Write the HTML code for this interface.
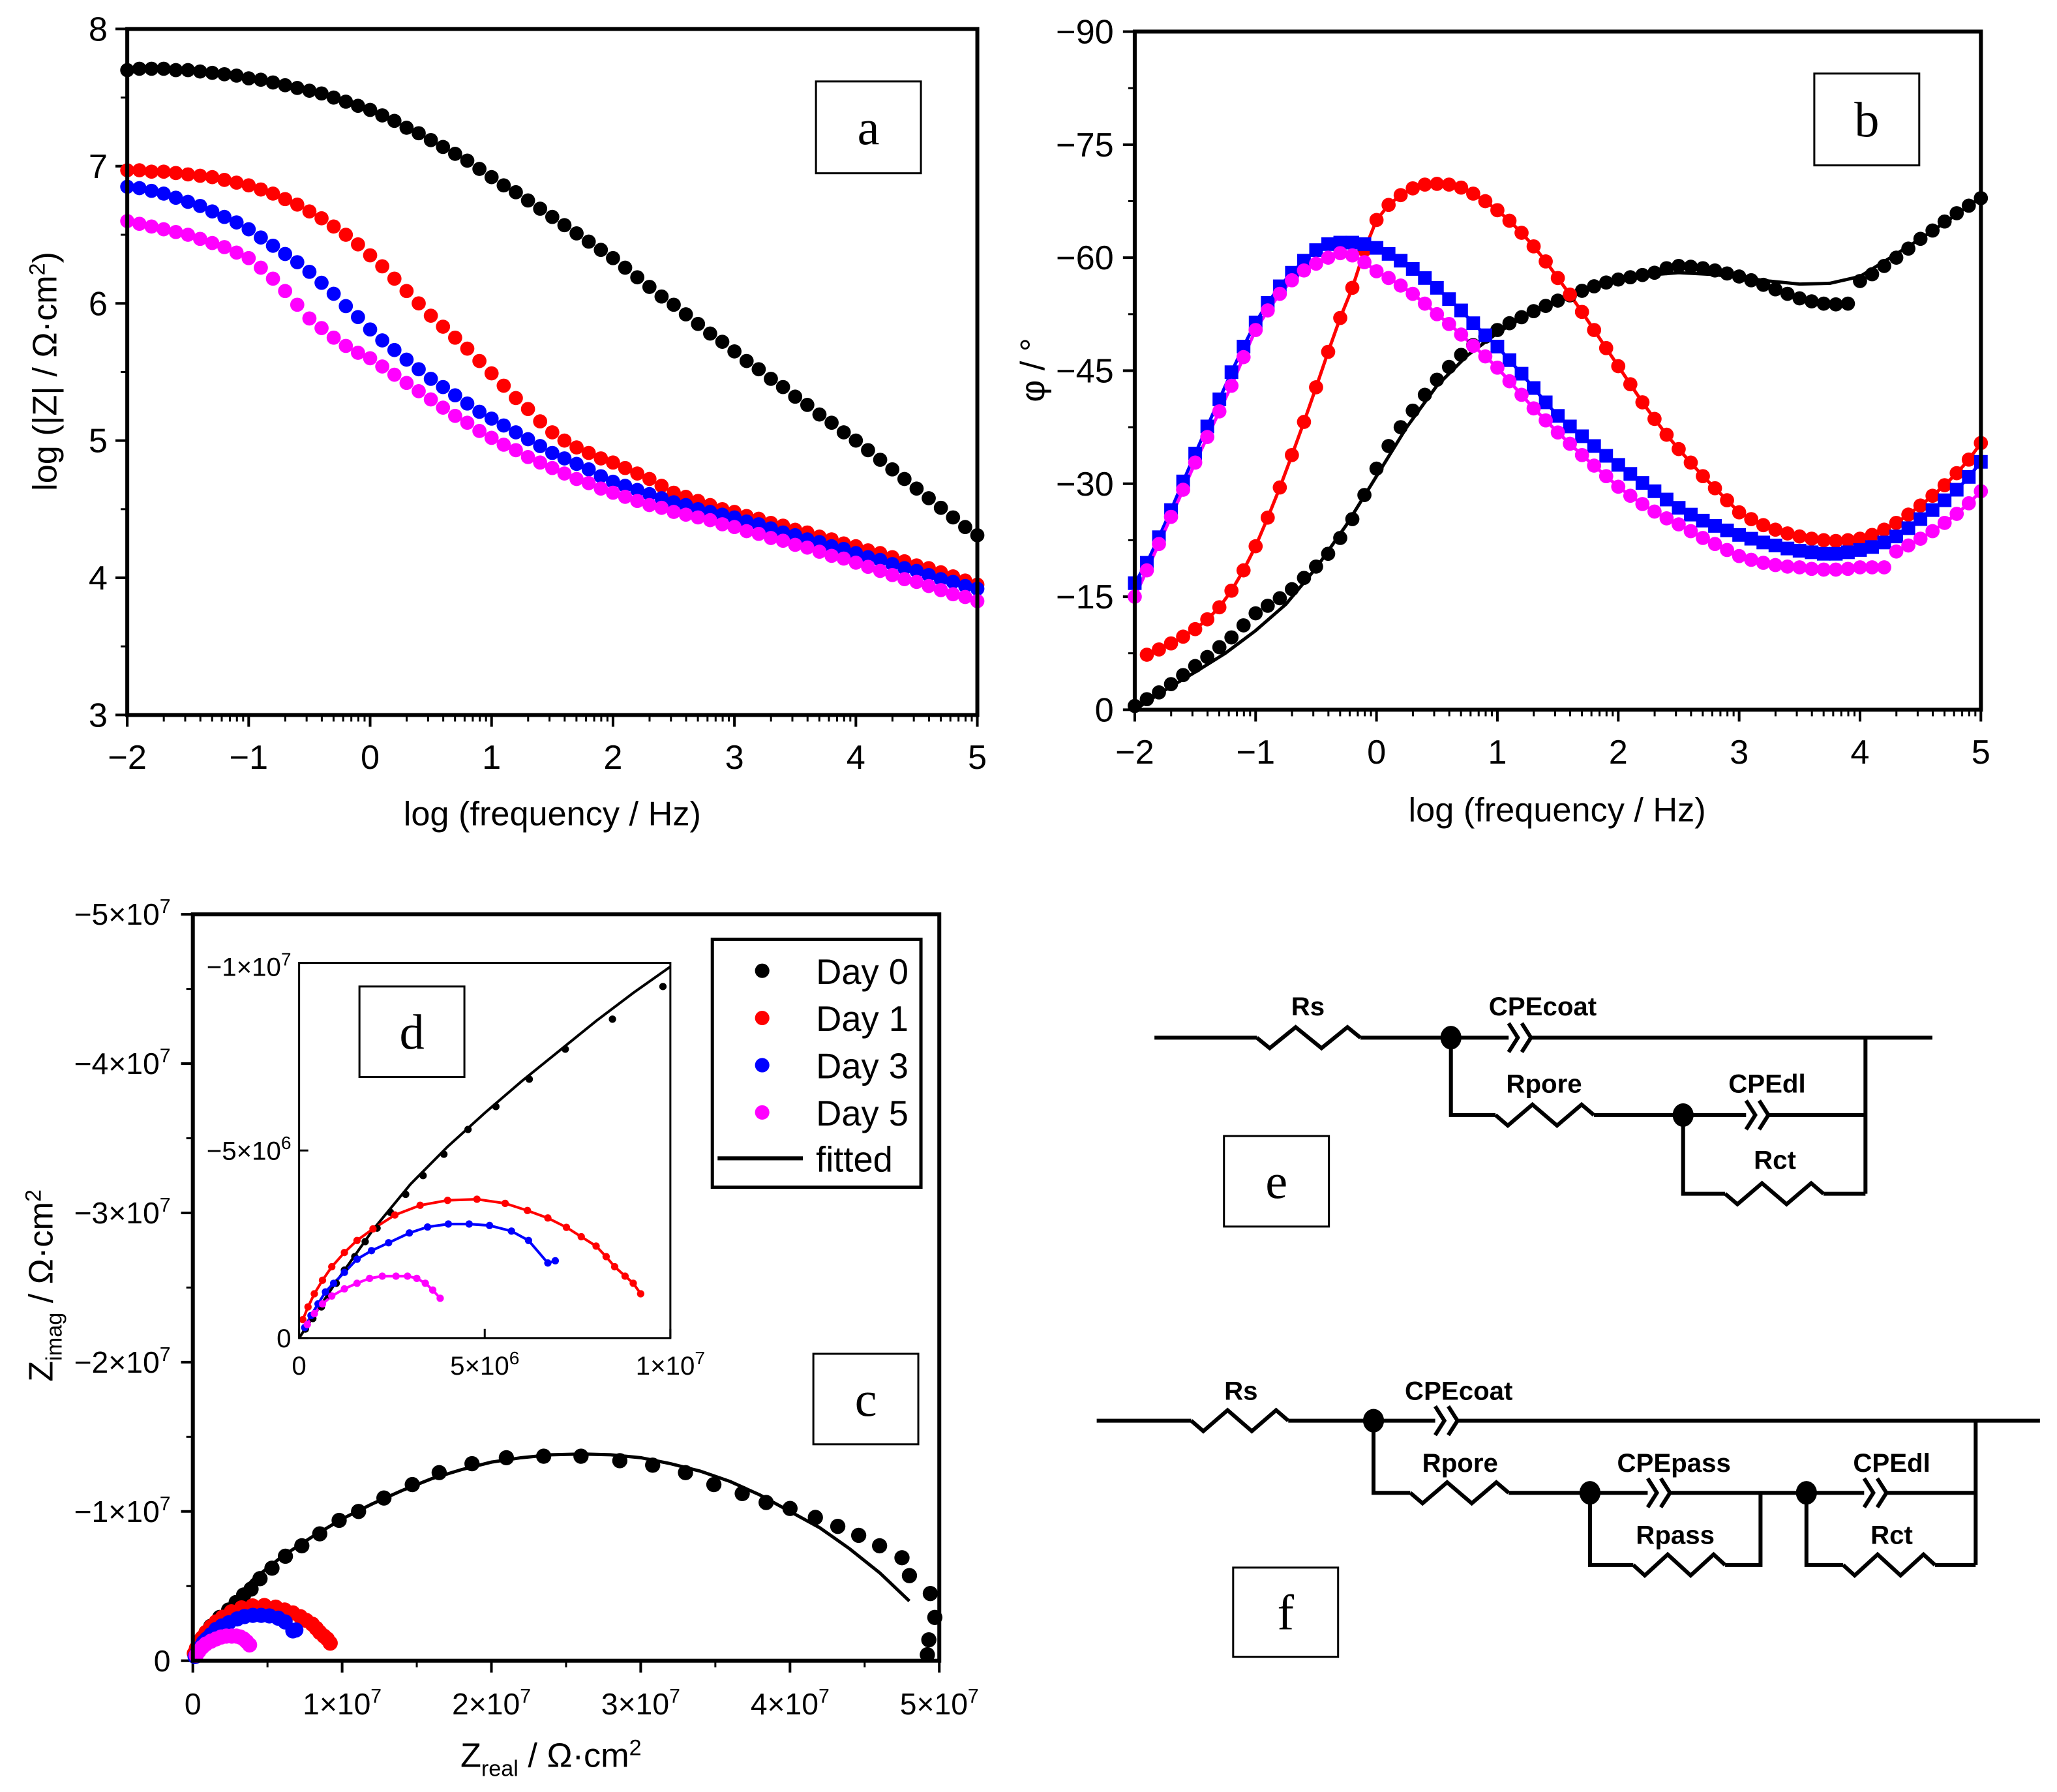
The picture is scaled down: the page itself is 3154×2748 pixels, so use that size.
<!DOCTYPE html>
<html><head><meta charset="utf-8"><style>
html,body{margin:0;padding:0;background:#fff;}
svg{display:block;}
text{font-family:"Liberation Sans",sans-serif;fill:#000;}
.serif{font-family:"Liberation Serif",serif;}
</style></head><body>
<svg id="root" xmlns="http://www.w3.org/2000/svg" width="3154" height="2748" viewBox="0 0 1568 1366">
<rect x="0" y="0" width="1568" height="1366" fill="#fff"/>
</svg>
<script>
// ---------- Panel a data: log|Z| vs log f (step 0.1 from -2 to 5) ----------
const aFreqStart = -2, aFreqStep = 0.1;
const aDay0 = [7.70,7.71,7.71,7.71,7.70,7.70,7.69,7.68,7.67,7.66,7.64, 7.63,7.61,7.59,7.57,7.55,7.53,7.50,7.47,7.44,7.41, 7.37,7.33,7.28,7.24,7.19,7.14,7.09,7.04,6.98,6.92, 6.86,6.81,6.75,6.69,6.63,6.57,6.51,6.45,6.39,6.33, 6.26,6.19,6.12,6.05,5.99,5.92,5.85,5.78,5.72,5.65, 5.58,5.52,5.45,5.39,5.32,5.26,5.19,5.13,5.06,5.00, 4.93,4.86,4.79,4.72,4.65,4.58,4.51,4.44,4.37,4.31];
const aDay1 = [6.97,6.97,6.96,6.96,6.95,6.94,6.93,6.92,6.90,6.88,6.86, 6.83,6.80,6.76,6.72,6.67,6.62,6.56,6.50,6.43,6.35, 6.27,6.18,6.09,6.00,5.91,5.83,5.75,5.67,5.58,5.49, 5.40,5.31,5.23,5.14,5.06,5.00,4.95,4.91,4.87,4.84, 4.80,4.76,4.72,4.67,4.62,4.59,4.56,4.53,4.50,4.48, 4.45,4.43,4.40,4.38,4.35,4.33,4.30,4.28,4.25,4.23, 4.20,4.18,4.15,4.12,4.09,4.07,4.04,4.01,3.98,3.95];
const aDay3 = [6.85,6.84,6.82,6.80,6.77,6.74,6.71,6.67,6.63,6.59,6.54, 6.48,6.42,6.36,6.30,6.23,6.15,6.07,5.98,5.90,5.81, 5.73,5.66,5.59,5.52,5.45,5.39,5.33,5.27,5.21,5.16, 5.11,5.06,5.01,4.96,4.91,4.87,4.83,4.79,4.74,4.70, 4.67,4.64,4.61,4.58,4.55,4.53,4.50,4.48,4.46,4.44, 4.41,4.39,4.36,4.33,4.31,4.28,4.26,4.23,4.21,4.18, 4.15,4.13,4.10,4.07,4.05,4.02,3.99,3.97,3.94,3.92];
const aDay5 = [6.60,6.58,6.56,6.54,6.52,6.50,6.47,6.44,6.41,6.37,6.33, 6.26,6.18,6.09,5.99,5.89,5.82,5.75,5.69,5.64,5.60, 5.54,5.48,5.42,5.36,5.30,5.24,5.18,5.13,5.07,5.02, 4.97,4.93,4.88,4.84,4.80,4.76,4.72,4.69,4.65,4.62, 4.59,4.56,4.53,4.51,4.48,4.46,4.44,4.42,4.39,4.37, 4.34,4.32,4.29,4.27,4.24,4.22,4.19,4.16,4.14,4.11, 4.08,4.05,4.02,3.99,3.97,3.94,3.91,3.88,3.86,3.83];
const aXTicks = [-2,-1,0,1,2,3,4,5];
const aYTicks = [3,4,5,6,7,8];

// ---------- Panel b data: -phi (deg) vs log f ----------
const bDay0Start = -2;
const bDay0 = [0.5,1.4,2.3,3.4,4.6,5.8,7.0,8.3,9.6,11.2,12.8, 13.8,14.8,16.0,17.5,19.0,20.7,22.8,25.3,28.5,32.0, 35.0,37.5,39.7,41.8,43.8,45.5,47.1,48.4,49.5,50.4, 51.3,52.1,52.9,53.6,54.3,55.0,55.6,56.2,56.7,57.1, 57.4,57.7,58.0,58.6,58.9,58.8,58.6,58.3,57.9,57.5, 57.0,56.4,55.8,55.2,54.6,54.2,53.9,53.8,53.9, 56.9,57.8,58.9,60.0,61.2,62.5,63.6,64.8,65.9,66.9,67.9];
const bDay0FitFreq = [-2,-1.75,-1.5,-1.25,-1,-0.75,-0.5,-0.25,0,0.25,0.5,0.75,1,1.25,1.5,1.75,2,2.25,2.5,2.75,3,3.25,3.5,3.75,4,4.25,4.5,4.75,5];
const bDay0Fit = [0,2.6,5.0,7.5,10.5,14.0,18.8,24.5,31,37.5,43,47,50,52.5,54.4,55.9,57,57.7,58,57.8,57.4,56.9,56.5,56.6,57.5,60.0,62.5,65.2,68];
const bDay1Start = -1.9;
const bDay1 = [7.3,8.0,8.8,9.7,10.7,12.0,13.6,15.8,18.5,21.7, 25.5,29.5,33.8,38.2,42.8,47.5,52.0,56.0,61.0,65.0, 67.0,68.3,69.2,69.7,69.8,69.7,69.3,68.5,67.5,66.3, 64.9,63.3,61.5,59.5,57.3,55.1,52.8,50.4,48.0,45.6, 43.2,40.8,38.6,36.5,34.6,32.8,31.0,29.4,27.8,26.2, 25.3,24.5,23.9,23.4,23.0,22.7,22.5,22.4,22.5,22.7, 23.2,23.9,24.8,25.9,27.1,28.4,29.8,31.4,33.2,35.4];
const bDay3Start = -2;
const bDay3 = [16.8,19.5,22.9,26.5,30.3,34.0,37.6,41.2,44.8,48.2,51.4, 54.0,56.2,58.0,59.6,61.0,61.8,62.0,62.0,61.8,61.3, 60.5,59.6,58.5,57.3,56.0,54.5,53.0,51.3,49.7,48.2, 46.4,44.6,42.7,40.8,39.0,37.6,36.3,35.0,33.7,32.5, 31.3,30.1,29.0,27.9,26.8,25.9,25.1,24.4,23.8,23.2, 22.7,22.2,21.8,21.4,21.1,20.9,20.7,20.7,20.9,21.2, 21.6,22.2,23.0,24.1,25.3,26.5,27.8,29.2,30.9,32.9];
const bDay5Start = -2;
const bDay5 = [15.0,18.5,22.0,25.6,29.2,32.8,36.2,39.6,43.0,46.8,50.4, 53.0,55.2,57.0,58.3,59.2,60.0,60.6,60.3,59.4,58.2, 57.3,56.3,55.2,53.9,52.5,51.2,49.8,48.3,46.9,45.4, 43.6,41.8,40.0,38.4,36.8,35.3,33.8,32.4,31.0,29.6, 28.4,27.3,26.3,25.4,24.6,23.7,22.8,22.0,21.2,20.4, 19.9,19.5,19.2,19.0,18.9,18.7,18.6,18.6,18.7,18.9, 18.9,18.9, 21.0,21.8,22.7,23.7,24.8,26.0,27.4,29.0];
const bDay5BreakIndex = 63;
const bXTicks = [-2,-1,0,1,2,3,4,5];
const bYTicks = [0,15,30,45,60,75,90];
const bYTickLabels = ["0","\u221215","\u221230","\u221245","\u221260","\u221275","\u221290"];

// ---------- Panel c / d data: Nyquist (units of 1e6 ohm cm2, -Zimag positive) ----------
const cDay0Re = [0.6,1.2,1.8,2.4,2.9,3.4,3.9,4.5,5.3,6.2,7.3,8.5,9.8,11.1,12.8,14.7,16.5,18.7,21.0,23.5,26.0,28.6,30.8,33.0,34.9,36.8,38.4,40.0,41.7,43.2,44.6,46.0,47.5,48.0,49.4,49.7,49.3,49.2];
const cDay0Im = [1.5,2.3,2.9,3.4,3.9,4.4,4.8,5.5,6.2,7.0,7.7,8.5,9.4,10.0,10.9,11.8,12.6,13.2,13.6,13.7,13.7,13.4,13.1,12.6,11.8,11.2,10.6,10.2,9.6,9.0,8.4,7.7,6.9,5.7,4.5,2.9,1.4,0.4];
const cDay0FitRe = [0,2,4,6,8,10,12,14,16,18,20,22,24,26,28,30,32,34,36,38,40,42,44,46,48];
const cDay0FitIm = [0,3.2,5.4,7.0,8.3,9.5,10.5,11.4,12.2,12.8,13.3,13.6,13.8,13.85,13.8,13.6,13.2,12.7,12.0,11.1,10.0,8.9,7.5,5.9,4.0];
const dDay0Re = [0.17,0.37,0.6,0.8,1.0,1.22,1.5,1.78,2.1,2.46,2.87,3.34,3.9,4.55,5.3,6.2,7.17,8.44,9.8];
const dDay0Im = [0.24,0.52,0.83,1.15,1.46,1.81,2.17,2.57,2.93,3.35,3.83,4.33,4.9,5.56,6.17,6.9,7.7,8.5,9.37];
const dDay0FitRe = [0,1,2,3,4,5,6,7,8,9,10];
const dDay0FitIm = [0,1.5,2.9,4.1,5.1,6.0,6.85,7.65,8.45,9.2,9.9];
const dDay1Re = [0.10,0.24,0.41,0.63,0.88,1.22,1.56,1.99,2.58,3.26,4.0,4.79,5.55,6.15,6.7,7.2,7.6,8.0,8.27,8.5,8.78,9.0,9.2];
const dDay1Im = [0.49,0.83,1.18,1.54,1.9,2.28,2.6,2.91,3.28,3.54,3.67,3.7,3.59,3.4,3.2,2.95,2.7,2.45,2.17,1.9,1.65,1.46,1.18];
const dDay3Re = [0.15,0.32,0.51,0.71,0.93,1.22,1.56,1.95,2.41,2.97,3.46,4.02,4.58,5.13,5.72,6.18,6.7,6.9];
const dDay3Im = [0.28,0.6,0.91,1.23,1.46,1.75,2.1,2.33,2.54,2.8,2.96,3.04,3.04,3.0,2.85,2.6,2.0,2.06];
const dDay5Re = [0.22,0.41,0.63,0.88,1.22,1.56,1.9,2.24,2.61,2.92,3.17,3.4,3.6,3.8];
const dDay5Im = [0.36,0.65,0.91,1.12,1.31,1.46,1.59,1.65,1.65,1.65,1.59,1.46,1.28,1.06];
const cTicks = [0,10,20,30,40,50];
const cTickMant = ["0","1","2","3","4","5"];
const dXTicks = [0,5,10];
const dXTickLabels = [["0",""],["5\u00d710","6"],["1\u00d710","7"]];
const dYTicks = [0,5,10];
const dYTickLabels = [["0",""],["\u22125\u00d710","6"],["\u22121\u00d710","7"]];
const legendLabels = ["Day 0","Day 1","Day 3","Day 5"];

// ---------- helpers ----------
const NS = "http://www.w3.org/2000/svg";
const root = document.getElementById("root");
function mk(tag, attrs, parent){
  const e = document.createElementNS(NS, tag);
  for (const k in attrs) e.setAttribute(k, attrs[k]);
  (parent || root).appendChild(e);
  return e;
}
const COL = {d0:"#000000", d1:"#ff0000", d3:"#0000ff", d5:"#ff00ff"};
const DOT = 5.4;

// ===== Panel a =====
const xa = f => 97 + (f + 2) * 92.57;
const ya = v => 545 - (v - 3) * 104.6;
const gA = mk("g", {});


function drawAxesLog(g, xf, x0, x1, yTop, yBot, xTicks){
  xTicks.forEach((t, i) => {
    const x = xf(t);
    const tk = mk("line", {x1:x, y1:yBot, x2:x, y2:yBot + 9, stroke:"#000", "stroke-width":2}, g);
    
    
    if (i < xTicks.length - 1) {
      for (let m = 2; m <= 9; m++) {
        const xm = xf(t + Math.log10(m));
        const mt = mk("line", {x1:xm, y1:yBot, x2:xm, y2:yBot + 5, stroke:"#000", "stroke-width":1.5}, g);
        
        
      }
    }
  });
}
drawAxesLog(gA, xa, 97, 745, 22, 545, aXTicks);
aXTicks.forEach(t => {
  const tx = mk("text", {x:xa(t), y:586, "font-size":26, "text-anchor":"middle"}, gA);
  tx.textContent = t < 0 ? "\u2212" + Math.abs(t) : String(t);
  
  
});
aYTicks.forEach((t, i) => {
  const y = ya(t);
  const tk = mk("line", {x1:88, y1:y, x2:97, y2:y, stroke:"#000", "stroke-width":2}, gA);
  
  
  if (i < aYTicks.length - 1) {
    const ym = ya(t + 0.5);
    const mt = mk("line", {x1:92, y1:ym, x2:97, y2:ym, stroke:"#000", "stroke-width":1.5}, gA);
    
    
  }
  const tx = mk("text", {x:82, y:y + 9, "font-size":26, "text-anchor":"end"}, gA);
  tx.textContent = String(t);
  
  
});
const aXT = mk("text", {x:421, y:629, "font-size":26, "text-anchor":"middle"}, gA);
aXT.textContent = "log (frequency / Hz)";


const aYT = mk("text", {x:0, y:0, "font-size":26, "text-anchor":"middle", transform:"translate(43,283) rotate(-90)"}, gA);
aYT.innerHTML = 'log (|Z| / \u03a9\u00b7cm<tspan dy="-9" font-size="17">2</tspan><tspan dy="9">)</tspan>';


[["day0",aDay0,COL.d0],["day1",aDay1,COL.d1],["day3",aDay3,COL.d3],["day5",aDay5,COL.d5]].forEach(([nm, arr, c]) => {
  const g = mk("g", {fill:c}, gA);
  
  
  arr.forEach((v, i) => {
    const p = mk("circle", {cx:xa(aFreqStart + i * aFreqStep), cy:ya(v), r:DOT}, g);
    
    
  });
});
const aFrame = mk("rect", {x:97, y:22, width:648, height:523, fill:"none", stroke:"#000", "stroke-width":3}, gA);


function labelBox(g, x, y, w, h, letter, name){
  const r = mk("rect", {x:x, y:y, width:w, height:h, fill:"#fff", stroke:"#000", "stroke-width":1.5}, g);
  
  
  const t = mk("text", {x:x + w/2, y:y + h/2 + 13, "font-size":38, "text-anchor":"middle", class:"serif"}, g);
  t.textContent = letter;
  
  
}
labelBox(gA, 622, 62, 80, 70, "a", "panel-label-a");

// ===== Panel b =====
const xb = f => 865 + (f + 2) * 92.14;
const yb = p => 541 - p * 5.744;
const gB = mk("g", {});


drawAxesLog(gB, xb, 865, 1510, 24, 541, bXTicks);
bXTicks.forEach(t => {
  const tx = mk("text", {x:xb(t), y:582, "font-size":26, "text-anchor":"middle"}, gB);
  tx.textContent = t < 0 ? "\u2212" + Math.abs(t) : String(t);
  
  
});
bYTicks.forEach((t, i) => {
  const y = yb(t);
  const tk = mk("line", {x1:856, y1:y, x2:865, y2:y, stroke:"#000", "stroke-width":2}, gB);
  
  
  if (i < bYTicks.length - 1) {
    const ym = yb(t + 7.5);
    const mt = mk("line", {x1:860, y1:ym, x2:865, y2:ym, stroke:"#000", "stroke-width":1.5}, gB);
    
    
  }
  const tx = mk("text", {x:849, y:y + 9, "font-size":26, "text-anchor":"end"}, gB);
  tx.textContent = bYTickLabels[i];
  
  
});
const bXT = mk("text", {x:1187, y:626, "font-size":26, "text-anchor":"middle"}, gB);
bXT.textContent = "log (frequency / Hz)";


const bYT = mk("text", {x:0, y:0, "font-size":26, "text-anchor":"middle", transform:"translate(796,282) rotate(-90)"}, gB);
bYT.textContent = "\u03c6 / \u00b0";


function lineSeg(g, pts, c, w, name){
  const l = mk("polyline", {points:pts.map(p => p[0].toFixed(1) + "," + p[1].toFixed(1)).join(" "), fill:"none", stroke:c, "stroke-width":w}, g);
  
  
}
lineSeg(gB, bDay0FitFreq.map((f, i) => [xb(f), yb(bDay0Fit[i])]), COL.d0, 2.5, 'fit-line-day0');
lineSeg(gB, bDay1.map((v, i) => [xb(bDay1Start + i * 0.1), yb(v)]), COL.d1, 2.5, 'fit-line-day1');
lineSeg(gB, bDay3.map((v, i) => [xb(bDay3Start + i * 0.1), yb(v)]), COL.d3, 2.5, 'fit-line-day3');
lineSeg(gB, bDay5.slice(0, bDay5BreakIndex).map((v, i) => [xb(bDay5Start + i * 0.1), yb(v)]), COL.d5, 2.5, 'fit-line-day5');
lineSeg(gB, bDay5.slice(bDay5BreakIndex).map((v, i) => [xb(bDay5Start + (i + bDay5BreakIndex) * 0.1), yb(v)]), COL.d5, 2.5, 'fit-line-day5-upper');
function dots(g, arr, start, c, name, square){
  const gg = mk("g", {fill:c}, g);
  
  
  arr.forEach((v, i) => {
    const cx = xb(start + i * 0.1), cy = yb(v);
    const p = square ? mk("rect", {x:cx - 5.2, y:cy - 5.2, width:10.4, height:10.4}, gg) : mk("circle", {cx:cx, cy:cy, r:DOT}, gg);
    
    
  });
}
dots(gB, bDay0, bDay0Start, COL.d0, 'series-day0', false);
dots(gB, bDay1, bDay1Start, COL.d1, 'series-day1', false);
dots(gB, bDay3, bDay3Start, COL.d3, 'series-day3', true);
dots(gB, bDay5, bDay5Start, COL.d5, 'series-day5', false);
const bFrame = mk("rect", {x:865, y:24, width:645, height:517, fill:"none", stroke:"#000", "stroke-width":3}, gB);


labelBox(gB, 1383, 56, 80, 70, "b", "panel-label-b");

// ===== Panel c =====
const xc = v => 147 + v * 11.38;
const yc = v => 1266 - v * 11.38;
const gC = mk("g", {});


cTicks.forEach((t, i) => {
  const x = xc(t), y = yc(t);
  const tx1 = mk("line", {x1:x, y1:1266, x2:x, y2:1275, stroke:"#000", "stroke-width":2}, gC);
  
  
  const ty1 = mk("line", {x1:138, y1:y, x2:147, y2:y, stroke:"#000", "stroke-width":2}, gC);
  
  
  if (i < cTicks.length - 1) {
    const xm = xc(t + 5), ym = yc(t + 5);
    const m1 = mk("line", {x1:xm, y1:1266, x2:xm, y2:1271, stroke:"#000", "stroke-width":1.5}, gC);
    
    
    const m2 = mk("line", {x1:142, y1:ym, x2:147, y2:ym, stroke:"#000", "stroke-width":1.5}, gC);
    
    
  }
  const lx = mk("text", {x:x, y:1307, "font-size":23, "text-anchor":"middle"}, gC);
  lx.innerHTML = t === 0 ? "0" : cTickMant[i] + '\u00d710<tspan dy="-9" font-size="15">7</tspan>';
  
  
  const ly = mk("text", {x:130, y:y + 8, "font-size":23, "text-anchor":"end"}, gC);
  ly.innerHTML = t === 0 ? "0" : '\u2212' + cTickMant[i] + '\u00d710<tspan dy="-9" font-size="15">7</tspan>';
  
  
});
const cXT = mk("text", {x:420, y:1347, "font-size":26, "text-anchor":"middle"}, gC);
cXT.innerHTML = 'Z<tspan dy="7" font-size="17">real</tspan><tspan dy="-7"> / \u03a9\u00b7cm</tspan><tspan dy="-9" font-size="17">2</tspan>';


const cYT = mk("text", {x:0, y:0, "font-size":26, "text-anchor":"middle", transform:"translate(40,980) rotate(-90)"}, gC);
cYT.innerHTML = 'Z<tspan dy="7" font-size="17">imag</tspan><tspan dy="-7"> / \u03a9\u00b7cm</tspan><tspan dy="-9" font-size="17">2</tspan>';


function nyq(g, xf, yf, re, im, c, r, name){
  const gg = mk("g", {fill:c}, g);
  
  
  re.forEach((v, i) => {
    const p = mk("circle", {cx:xf(v), cy:yf(im[i]), r:r}, gg);
    
    
  });
}
lineSeg(gC, cDay0FitRe.map((v, i) => [xc(v), yc(cDay0FitIm[i])]), COL.d0, 2.5, 'fit-line-day0');
lineSeg(gC, dDay1Re.map((v, i) => [xc(v), yc(dDay1Im[i])]), COL.d1, 5, 'fit-line-day1');
lineSeg(gC, dDay3Re.map((v, i) => [xc(v), yc(dDay3Im[i])]), COL.d3, 5, 'fit-line-day3');
lineSeg(gC, dDay5Re.map((v, i) => [xc(v), yc(dDay5Im[i])]), COL.d5, 5, 'fit-line-day5');
nyq(gC, xc, yc, cDay0Re, cDay0Im, COL.d0, 5.8, 'series-day0');
nyq(gC, xc, yc, dDay1Re, dDay1Im, COL.d1, 5.8, 'series-day1');
nyq(gC, xc, yc, dDay3Re, dDay3Im, COL.d3, 5.8, 'series-day3');
nyq(gC, xc, yc, dDay5Re, dDay5Im, COL.d5, 5.8, 'series-day5');
const cFrame = mk("rect", {x:147, y:697, width:569, height:569, fill:"none", stroke:"#000", "stroke-width":3}, gC);


labelBox(gC, 620, 1032, 80, 69, "c", "panel-label-c");

// legend
const gL = mk("g", {}, gC);


const lb = mk("rect", {x:543, y:716, width:159, height:189, fill:"#fff", stroke:"#000", "stroke-width":2.5}, gL);


[COL.d0, COL.d1, COL.d3, COL.d5].forEach((c, i) => {
  const y = 740 + i * 36;
  const d = mk("circle", {cx:581, cy:y, r:5.5, fill:c}, gL);
  
  
  const t = mk("text", {x:622, y:y + 10, "font-size":27}, gL);
  t.textContent = legendLabels[i];
  
  
});
const ll = mk("line", {x1:547, y1:883, x2:612, y2:883, stroke:"#000", "stroke-width":3}, gL);


const lt = mk("text", {x:622, y:893, "font-size":27}, gL);
lt.textContent = "fitted";



// ===== Inset d =====
const xi = v => 228 + v * 28.3;
const yi = v => 1020 - v * 28.6;
const gD = mk("g", {});


const dBg = mk("rect", {x:228, y:734, width:283, height:286, fill:"#fff"}, gD);


dXTicks.forEach((t, i) => {
  const x = xi(t);
  const tk = mk("line", {x1:x, y1:1020, x2:x, y2:1013, stroke:"#000", "stroke-width":1.5}, gD);
  
  
  const tx = mk("text", {x:x, y:1048, "font-size":20, "text-anchor":"middle"}, gD);
  tx.innerHTML = dXTickLabels[i][0] + (dXTickLabels[i][1] ? '<tspan dy="-8" font-size="14">' + dXTickLabels[i][1] + '</tspan>' : '');
  
  
});
dYTicks.forEach((t, i) => {
  const y = yi(t);
  const tk = mk("line", {x1:228, y1:y, x2:235, y2:y, stroke:"#000", "stroke-width":1.5}, gD);
  
  
  const tx = mk("text", {x:222, y:y + (t === 10 ? 10 : 7), "font-size":20, "text-anchor":"end"}, gD);
  tx.innerHTML = dYTickLabels[i][0] + (dYTickLabels[i][1] ? '<tspan dy="-8" font-size="14">' + dYTickLabels[i][1] + '</tspan>' : '');
  
  
});
lineSeg(gD, dDay0FitRe.map((v, i) => [xi(v), yi(dDay0FitIm[i])]), COL.d0, 2, 'fit-line-day0');
lineSeg(gD, dDay1Re.map((v, i) => [xi(v), yi(dDay1Im[i])]), COL.d1, 2, 'fit-line-day1');
lineSeg(gD, dDay3Re.map((v, i) => [xi(v), yi(dDay3Im[i])]), COL.d3, 2, 'fit-line-day3');
lineSeg(gD, dDay5Re.map((v, i) => [xi(v), yi(dDay5Im[i])]), COL.d5, 2, 'fit-line-day5');
nyq(gD, xi, yi, dDay0Re, dDay0Im, COL.d0, 2.8, 'series-day0');
nyq(gD, xi, yi, dDay1Re, dDay1Im, COL.d1, 2.8, 'series-day1');
nyq(gD, xi, yi, dDay3Re, dDay3Im, COL.d3, 2.8, 'series-day3');
nyq(gD, xi, yi, dDay5Re, dDay5Im, COL.d5, 2.8, 'series-day5');
const dFrame = mk("rect", {x:228, y:734, width:283, height:286, fill:"none", stroke:"#000", "stroke-width":1.5}, gD);


labelBox(gD, 274, 752, 80, 69, "d", "panel-label-d");

// ===== Circuits =====
function resistor(g, x0, x1, y){
  const w = (x1 - x0) / 8;
  const pts = [[x0,y],[x0+w,y+8],[x0+3*w,y-8],[x0+5*w,y+8],[x0+7*w,y-8],[x1,y]];
  const p = mk("polyline", {points:pts.map(q => q.join(",")).join(" "), fill:"none", stroke:"#000", "stroke-width":3}, g);
  
  
}
function cpe(g, x0, y){
  const p = mk("path", {d:`M${x0},${y-11} L${x0+7},${y} L${x0},${y+11} M${x0+10},${y-11} L${x0+17},${y} L${x0+10},${y+11}`, fill:"none", stroke:"#000", "stroke-width":3}, g);
  
  
}
function wire(g, pts){
  const p = mk("polyline", {points:pts.map(q => q.join(",")).join(" "), fill:"none", stroke:"#000", "stroke-width":3}, g);
  
  
}
function node(g, x, y){
  const c = mk("ellipse", {cx:x, cy:y, rx:8, ry:9, fill:"#000"}, g);
  
  
}
function clabel(g, x, y, s){
  const t = mk("text", {x:x, y:y, "font-size":20, "text-anchor":"middle", "font-weight":"bold"}, g);
  t.textContent = s;
  
  
}
// e
const gE = mk("g", {});


wire(gE, [[880,791],[958,791]]); resistor(gE, 958, 1037, 791); wire(gE, [[1037,791],[1150,791]]);
cpe(gE, 1150, 791); wire(gE, [[1167,791],[1473,791]]);
wire(gE, [[1106,791],[1106,850],[1140,850]]); resistor(gE, 1140, 1215, 850); wire(gE, [[1215,850],[1331,850]]);
cpe(gE, 1331, 850); wire(gE, [[1348,850],[1422,850]]);
wire(gE, [[1422,791],[1422,910]]);
wire(gE, [[1283,850],[1283,910],[1315,910]]); resistor(gE, 1315, 1390, 910); wire(gE, [[1390,910],[1422,910]]);
node(gE, 1106, 791); node(gE, 1283, 850);
clabel(gE, 997, 774, "Rs"); clabel(gE, 1176, 774, "CPEcoat"); clabel(gE, 1177, 833, "Rpore"); clabel(gE, 1347, 833, "CPEdl"); clabel(gE, 1353, 891, "Rct");
labelBox(gE, 933, 866, 80, 69, "e", "panel-label-e");
// f
const gF = mk("g", {});


wire(gF, [[836,1083],[908,1083]]); resistor(gF, 908, 982, 1083); wire(gF, [[982,1083],[1094,1083]]);
cpe(gF, 1094, 1083); wire(gF, [[1111,1083],[1555,1083]]);
wire(gF, [[1047,1083],[1047,1138],[1075,1138]]); resistor(gF, 1075, 1150, 1138); wire(gF, [[1150,1138],[1256,1138]]);
cpe(gF, 1256, 1138); wire(gF, [[1273,1138],[1421,1138]]);
cpe(gF, 1421, 1138); wire(gF, [[1438,1138],[1506,1138]]);
wire(gF, [[1506,1083],[1506,1193]]);
wire(gF, [[1212,1138],[1212,1193],[1245,1193]]); resistor(gF, 1245, 1315, 1193); wire(gF, [[1315,1193],[1342,1193],[1342,1138]]);
wire(gF, [[1377,1138],[1377,1193],[1405,1193]]); resistor(gF, 1405, 1475, 1193); wire(gF, [[1475,1193],[1506,1193]]);
node(gF, 1047, 1083); node(gF, 1212, 1138); node(gF, 1377, 1138);
clabel(gF, 946, 1067, "Rs"); clabel(gF, 1112, 1067, "CPEcoat"); clabel(gF, 1113, 1122, "Rpore"); clabel(gF, 1276, 1122, "CPEpass"); clabel(gF, 1442, 1122, "CPEdl"); clabel(gF, 1277, 1177, "Rpass"); clabel(gF, 1442, 1177, "Rct");
labelBox(gF, 940, 1195, 80, 68, "f", "panel-label-f");
</script>
</body></html>
